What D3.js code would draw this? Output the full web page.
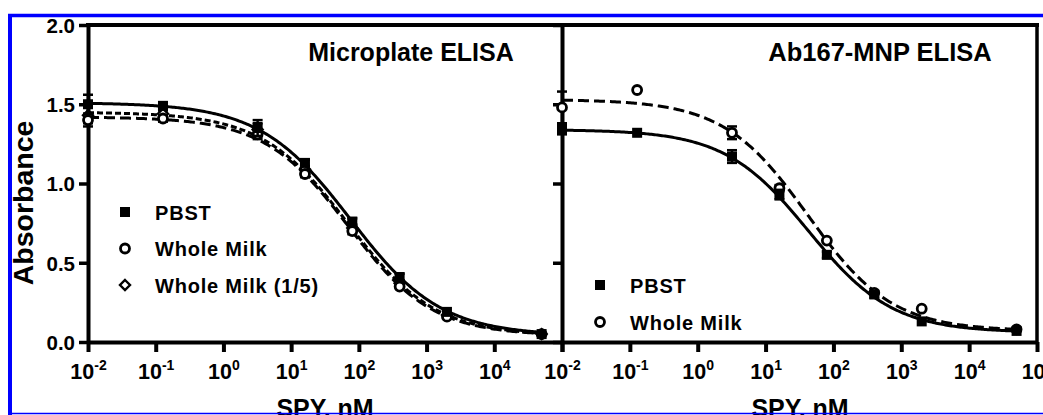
<!DOCTYPE html>
<html>
<head>
<meta charset="utf-8">
<script src="https://cdn.jsdelivr.net/npm/d3@7"></script>
<style>
  html, body { margin: 0; padding: 0; background: #fff; }
  svg { display: block; font-family: "Liberation Sans", Arial, sans-serif; font-weight: bold; }
</style>
</head>
<body>
<svg id="chart" width="1043" height="415"></svg>
<script>
// ---------- data ----------
const conc = [0.01, 0.128, 3.2, 16, 80, 400, 2000, 50000];
const xTickExps = [-2, -1, 0, 1, 2, 3, 4, 5];
const yTicks = [0.0, 0.5, 1.0, 1.5, 2.0];

// Microplate ELISA
const microPBST      = [1.50, 1.49, 1.35, 1.13, 0.76, 0.41, 0.19, 0.05];
const microPBSTErr   = [0.06, 0.02, 0.05, 0.02, 0.02, 0.02, 0.01, 0.01];
const microMilk      = [1.40, 1.41, 1.31, 1.06, 0.70, 0.35, 0.16, 0.05];
const microMilkErr   = [0.04, 0.02, 0.03, 0.02, 0.02, 0.01, 0.01, 0.01];
const microMilk5     = [1.43, 1.44, 1.34, 1.09, 0.72, 0.37, 0.17, 0.05];
const microMilk5Err  = [0.05, 0.02, 0.04, 0.02, 0.02, 0.01, 0.01, 0.01];

// Ab167-MNP ELISA
const mnpPBST        = [1.34, 1.32, 1.17, 0.93, 0.55, 0.30, 0.13, 0.07];
const mnpPBSTErr     = [0.03, 0.01, 0.04, 0.03, 0.02, 0.02, 0.01, 0.01];
const mnpMilk        = [1.48, 1.59, 1.32, 0.97, 0.64, 0.31, 0.21, 0.08];
const mnpMilkErr     = [0.10, 0.00, 0.04, 0.02, 0.01, 0.01, 0.01, 0.01];

// four-parameter logistic fits: [top, bottom, IC50, hill]
const fitMicroPBST  = [1.51, 0.04, 75, 0.65];
const fitMicroMilk  = [1.42, 0.04, 70, 0.70];
const fitMicroMilk5 = [1.45, 0.04, 70, 0.68];
const fitMnpPBST    = [1.34, 0.06, 43, 0.70];
const fitMnpMilk    = [1.53, 0.07, 42, 0.70];

const legendMicro = ["PBST", "Whole Milk", "Whole Milk (1/5)"];
const legendMnp = ["PBST", "Whole Milk"];
const titles = ["Microplate ELISA", "Ab167-MNP ELISA"];

// ---------- drawing ----------
const svg = d3.select("#chart");
const y = d3.scaleLinear().domain([0, 2]).range([342, 25]);
const xL = d3.scaleLog().domain([0.01, 1e5]).range([88, 562]);
const xR = d3.scaleLog().domain([0.01, 1e5]).range([562, 1037]);

function fourPL(p, c) { return p[1] + (p[0] - p[1]) / (1 + Math.pow(c / p[2], p[3])); }

const styles = {
  solid: null,
  longdash: "11,5",
  shortdash: "6,3"
};

function drawSeries(g, x, vals, errs, fit, dash, marker) {
  const grid = d3.range(0, 301).map(i => Math.pow(10, Math.log10(0.01) + i * (Math.log10(50000) - Math.log10(0.01)) / 300));
  const line = d3.line().x(c => x(c)).y(c => y(fourPL(fit, c)));
  g.append("path").attr("d", line(grid)).attr("fill", "none").attr("stroke", "#000")
    .attr("stroke-width", 3).attr("stroke-dasharray", dash);
  conc.forEach((c, i) => {
    const e = errs[i];
    if (e <= 0.012) return;
    const cx = x(c), y1 = y(vals[i] + e), y2 = y(vals[i] - e);
    g.append("line").attr("x1", cx).attr("x2", cx).attr("y1", y1).attr("y2", y2).attr("stroke", "#000").attr("stroke-width", 2.5);
    [y1, y2].forEach(yy => g.append("line").attr("x1", cx - 5).attr("x2", cx + 5).attr("y1", yy).attr("y2", yy).attr("stroke", "#000").attr("stroke-width", 2.5));
  });
  conc.forEach((c, i) => drawMarker(g, marker, x(c), y(vals[i])));
}

function drawMarker(g, type, cx, cy) {
  if (type === "square") {
    g.append("rect").attr("x", cx - 5).attr("y", cy - 5).attr("width", 10).attr("height", 10).attr("fill", "#000");
  } else if (type === "circle") {
    g.append("circle").attr("cx", cx).attr("cy", cy).attr("r", 4.5).attr("fill", "#fff").attr("stroke", "#000").attr("stroke-width", 2.8);
  } else if (type === "diamond") {
    g.append("path").attr("d", `M${cx},${cy - 5}L${cx + 5},${cy}L${cx},${cy + 5}L${cx - 5},${cy}Z`)
      .attr("fill", "#fff").attr("stroke", "#000").attr("stroke-width", 2.4);
  }
}

function xAxis(x, skipLast) {
  const g = svg.append("g").attr("transform", "translate(0,342)")
    .call(d3.axisBottom(x).tickValues(xTickExps.map(e => Math.pow(10, e))).tickSize(10).tickSizeOuter(0).tickFormat(() => ""));
  g.select(".domain").attr("stroke-width", 4);
  g.selectAll(".tick line").attr("stroke-width", 4);
  g.selectAll(".tick text").remove();
  g.selectAll(".tick").each(function (d, i) {
    if (skipLast && i === xTickExps.length - 1) return;
    const t = d3.select(this).append("text").attr("y", 37).attr("text-anchor", "middle")
      .attr("fill", "#000").style("font-size", "21.5px").style("font-weight", "bold");
    t.append("tspan").text("10");
    t.append("tspan").attr("dy", -9).style("font-size", "14px").text(String(xTickExps[i]));
  });
}

function yAxis(xpos, labels) {
  const g = svg.append("g").attr("transform", `translate(${xpos},0)`)
    .call(d3.axisLeft(y).tickValues(yTicks).tickSize(9).tickSizeOuter(0).tickFormat(d3.format(".1f")));
  g.select(".domain").attr("stroke-width", 4);
  g.selectAll(".tick line").attr("stroke-width", 3.5);
  if (labels) {
    g.selectAll(".tick text").attr("x", -13).attr("dy", "0.36em").attr("fill", "#000")
      .style("font-size", "20.5px").style("font-weight", "bold");
  } else {
    g.selectAll(".tick text").remove();
  }
}

// frame top & right
svg.append("line").attr("x1", 86).attr("x2", 1039).attr("y1", 25).attr("y2", 25).attr("stroke", "#000").attr("stroke-width", 4);
svg.append("line").attr("x1", 1037).attr("x2", 1037).attr("y1", 25).attr("y2", 342).attr("stroke", "#000").attr("stroke-width", 3.5);

xAxis(xL, true);
xAxis(xR, false);
yAxis(88, true);
yAxis(562, false);

const gL = svg.append("g");
drawSeries(gL, xL, microMilk5, microMilk5Err, fitMicroMilk5, styles.shortdash, "diamond");
drawSeries(gL, xL, microMilk, microMilkErr, fitMicroMilk, styles.longdash, "circle");
drawSeries(gL, xL, microPBST, microPBSTErr, fitMicroPBST, styles.solid, "square");

const gR = svg.append("g");
drawSeries(gR, xR, mnpMilk, mnpMilkErr, fitMnpMilk, styles.longdash, "circle");
drawSeries(gR, xR, mnpPBST, mnpPBSTErr, fitMnpPBST, styles.solid, "square");

// titles
svg.append("text").attr("x", 411).attr("y", 61).attr("text-anchor", "middle").style("font-size", "25px").text(titles[0]);
svg.append("text").attr("x", 880).attr("y", 61).attr("text-anchor", "middle").style("font-size", "25.5px").text(titles[1]);

// legends
const markers = ["square", "circle", "diamond"];
legendMicro.forEach((t, i) => {
  const cy = 212 + i * 36.5;
  drawMarker(svg, markers[i], 125, cy);
  svg.append("text").attr("x", 155).attr("y", cy + 7.5).style("font-size", "20px").style("letter-spacing", "0.8px").text(t);
});
legendMnp.forEach((t, i) => {
  const cy = 285 + i * 37;
  drawMarker(svg, markers[i], 600, cy);
  svg.append("text").attr("x", 630).attr("y", cy + 7.5).style("font-size", "20px").style("letter-spacing", "0.8px").text(t);
});

// axis titles
svg.append("text").attr("x", 325).attr("y", 417).attr("text-anchor", "middle").style("font-size", "25px").text("SPY, nM");
svg.append("text").attr("x", 800).attr("y", 417).attr("text-anchor", "middle").style("font-size", "25px").text("SPY, nM");
svg.append("text").attr("transform", "translate(33,203) rotate(-90)").attr("text-anchor", "middle").style("font-size", "28.5px").text("Absorbance");

// blue outer frame
svg.append("line").attr("x1", 8).attr("x2", 1043).attr("y1", 15.5).attr("y2", 15.5).attr("stroke", "#0000ff").attr("stroke-width", 3.5);
svg.append("line").attr("x1", 10).attr("x2", 10).attr("y1", 14).attr("y2", 415).attr("stroke", "#0000ff").attr("stroke-width", 4);
svg.append("line").attr("x1", 8).attr("x2", 1043).attr("y1", 413.5).attr("y2", 413.5).attr("stroke", "#0000ff").attr("stroke-width", 1.5);
</script>
</body>
</html>
